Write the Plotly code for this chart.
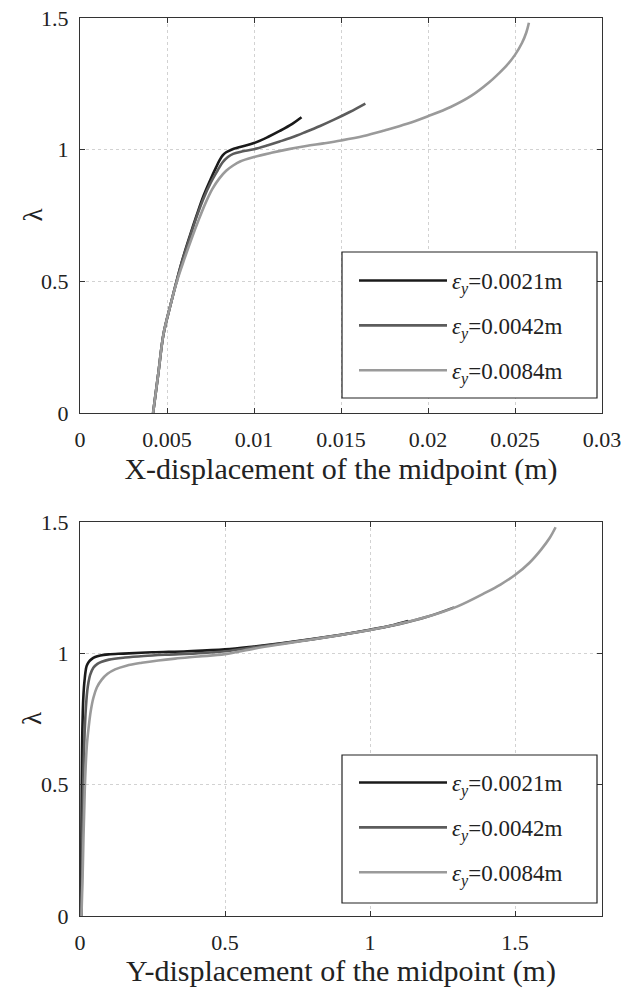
import plotly.graph_objects as go

# Load-factor curves for three imperfection amplitudes
labels = ["0.0021m", "0.0042m", "0.0084m"]
colors = ["#1a1a1a", "#5c5c5c", "#9a9a9a"]

# X-displacement of the midpoint (m) vs lambda
x_disp_1 = [0.0042, 0.0045, 0.0048, 0.0052, 0.00555, 0.0059, 0.0063, 0.0067, 0.0071, 0.0075, 0.0078, 0.00804,
            0.0082, 0.0084, 0.0087, 0.0092, 0.0100, 0.0108, 0.01148, 0.0122, 0.01273]
x_lam_1 = [0.0, 0.15, 0.30, 0.41, 0.50, 0.585, 0.67, 0.75, 0.825, 0.887, 0.93, 0.962,
           0.978, 0.99, 1.0, 1.01, 1.025, 1.048, 1.071, 1.098, 1.123]

x_disp_2 = [0.0042, 0.0045, 0.0048, 0.0052, 0.00555, 0.0059, 0.0063, 0.0067, 0.0071, 0.0075, 0.0079, 0.0082,
            0.0085, 0.0088, 0.0093, 0.0100, 0.0108, 0.01148, 0.0122, 0.0130, 0.0138, 0.0146, 0.0155, 0.0164]
x_lam_2 = [0.0, 0.15, 0.30, 0.41, 0.50, 0.583, 0.665, 0.745, 0.815, 0.873, 0.92, 0.952,
           0.972, 0.984, 0.993, 1.002, 1.017, 1.031, 1.047, 1.068, 1.09, 1.114, 1.143, 1.175]

x_disp_3 = [0.0042, 0.0045, 0.0048, 0.0052, 0.00557, 0.0060, 0.0064, 0.0068, 0.0072, 0.0076, 0.0080, 0.0084,
            0.0088, 0.0092, 0.0100, 0.0110, 0.0120, 0.0130, 0.0140, 0.0150, 0.0163, 0.0175, 0.0188, 0.0200,
            0.0213, 0.0225, 0.0235, 0.0240, 0.0245, 0.0250, 0.0254, 0.02565, 0.0258]
x_lam_3 = [0.0, 0.15, 0.30, 0.41, 0.50, 0.585, 0.66, 0.73, 0.795, 0.85, 0.89, 0.92,
           0.94, 0.955, 0.972, 0.988, 1.002, 1.014, 1.024, 1.035, 1.052, 1.073, 1.098, 1.127,
           1.162, 1.205, 1.255, 1.285, 1.318, 1.36, 1.405, 1.445, 1.482]

# Y-displacement of the midpoint (m) vs lambda
y_disp_1 = [0.004, 0.005, 0.006, 0.007, 0.008, 0.0095, 0.011, 0.0135, 0.016, 0.019, 0.023, 0.030, 0.040,
            0.052, 0.070, 0.098, 0.15, 0.25, 0.37, 0.50, 0.60, 0.70, 0.80, 0.90, 1.00, 1.07, 1.132]
y_lam_1 = [0.0, 0.30, 0.50, 0.62, 0.70, 0.77, 0.82, 0.87, 0.90, 0.93, 0.952, 0.967, 0.978,
           0.986, 0.992, 0.996, 0.999, 1.004, 1.008, 1.015, 1.026, 1.039, 1.054, 1.071, 1.090, 1.105, 1.123]

y_disp_2 = [0.005, 0.008, 0.011, 0.013, 0.016, 0.019, 0.022, 0.025, 0.029, 0.035, 0.046, 0.060, 0.075,
            0.10, 0.155, 0.22, 0.30, 0.40, 0.50, 0.60, 0.70, 0.80, 0.90, 1.00, 1.10, 1.20, 1.29]
y_lam_2 = [0.0, 0.30, 0.50, 0.60, 0.70, 0.77, 0.82, 0.857, 0.888, 0.918, 0.945, 0.96, 0.968,
           0.976, 0.984, 0.99, 0.995, 1.0, 1.008, 1.023, 1.038, 1.053, 1.07, 1.089, 1.111, 1.14, 1.175]

y_disp_3 = [0.005, 0.009, 0.012, 0.015, 0.017, 0.020, 0.024, 0.030, 0.037, 0.046, 0.058, 0.075, 0.095,
            0.121, 0.16, 0.213, 0.27, 0.328, 0.41, 0.50, 0.60, 0.70, 0.80, 0.90, 1.00, 1.10, 1.20, 1.30,
            1.40, 1.45, 1.50, 1.55, 1.59, 1.62, 1.64]
y_lam_3 = [0.0, 0.15, 0.30, 0.42, 0.50, 0.58, 0.655, 0.72, 0.78, 0.83, 0.87, 0.90, 0.922,
           0.939, 0.953, 0.964, 0.973, 0.98, 0.988, 0.997, 1.018, 1.036, 1.053, 1.07, 1.089, 1.112, 1.14, 1.178,
           1.232, 1.262, 1.298, 1.345, 1.395, 1.44, 1.48]

x_series = [(x_disp_1, x_lam_1), (x_disp_2, x_lam_2), (x_disp_3, x_lam_3)]
y_series = [(y_disp_1, y_lam_1), (y_disp_2, y_lam_2), (y_disp_3, y_lam_3)]

FONT = "Liberation Serif, Times New Roman, serif"
TXT = "#222222"


def legend_text(v):
    return "<i>ε</i><sub><i>y</i></sub>=" + v


fig = go.Figure()
for (xs, ys), lab, col in zip(x_series, labels, colors):
    fig.add_trace(go.Scatter(x=xs, y=ys, mode="lines", name=legend_text(lab),
                             line=dict(color=col, width=2.6, shape="spline", smoothing=1.0),
                             xaxis="x", yaxis="y", legend="legend", legendgroup="a" + lab))
for (xs, ys), lab, col in zip(y_series, labels, colors):
    fig.add_trace(go.Scatter(x=xs, y=ys, mode="lines", name=legend_text(lab),
                             line=dict(color=col, width=2.6, shape="spline", smoothing=1.0),
                             xaxis="x2", yaxis="y2", legend="legend2", legendgroup="b" + lab))

W, H = 635, 988
dom_x = [80 / W, 602 / W]
dom_y1 = [(H - 413) / H, (H - 18) / H]
dom_y2 = [(H - 916) / H, (H - 522) / H]

axis_common = dict(
    showline=True, linecolor="#333333", linewidth=1.2, mirror="ticks",
    ticks="inside", ticklen=5, tickcolor="#333333",
    showgrid=True, gridcolor="#d2d2d2", griddash="dot", gridwidth=1,
    zeroline=False, automargin=False,
    tickfont=dict(family=FONT, size=22, color=TXT),
    title_font=dict(family=FONT, size=30, color=TXT),
)

legend_common = dict(
    bgcolor="rgba(0,0,0,0)", borderwidth=0,
    font=dict(family=FONT, size=23, color=TXT),
    itemwidth=88, tracegroupgap=12, xanchor="left", yanchor="top",
)

# Legend frames drawn as white boxes behind the legend entries
box_x0, box_x1 = 342 / W, 597 / W
shapes = [
    dict(type="rect", xref="paper", yref="paper", x0=box_x0, x1=box_x1,
         y0=(H - 398) / H, y1=(H - 252) / H, fillcolor="white",
         line=dict(color="#222222", width=1.2), layer="above"),
    dict(type="rect", xref="paper", yref="paper", x0=box_x0, x1=box_x1,
         y0=(H - 903) / H, y1=(H - 755) / H, fillcolor="white",
         line=dict(color="#222222", width=1.2), layer="above"),
]

# Rotated lambda labels for the two vertical axes
lam_annotations = [
    dict(text="λ", xref="paper", yref="paper", x=32 / W, y=sum(dom_y1) / 2,
         xanchor="center", yanchor="middle",
         textangle=-90, showarrow=False, font=dict(family=FONT, size=27, color=TXT)),
    dict(text="λ", xref="paper", yref="paper", x=32 / W, y=sum(dom_y2) / 2,
         xanchor="center", yanchor="middle",
         textangle=-90, showarrow=False, font=dict(family=FONT, size=27, color=TXT)),
]

fig.update_layout(
    width=W, height=H,
    margin=dict(l=0, r=0, t=0, b=0),
    font=dict(family=FONT, color=TXT),
    paper_bgcolor="white", plot_bgcolor="white",
    xaxis=dict(domain=dom_x, range=[0, 0.03], dtick=0.005, anchor="y",
               title=dict(text="X-displacement of the midpoint (m)", standoff=3),
               ticklabelstandoff=6, **axis_common),
    yaxis=dict(domain=dom_y1, range=[0, 1.5], dtick=0.5, anchor="x",
               ticklabelstandoff=6, **axis_common),
    xaxis2=dict(domain=dom_x, range=[0, 1.8], tickvals=[0, 0.5, 1, 1.5], anchor="y2",
                title=dict(text="Y-displacement of the midpoint (m)", standoff=3),
                ticklabelstandoff=6, **axis_common),
    yaxis2=dict(domain=dom_y2, range=[0, 1.5], dtick=0.5, anchor="x2",
                ticklabelstandoff=6, **axis_common),
    legend=dict(x=354 / W, y=(H - 259) / H, **legend_common),
    legend2=dict(x=354 / W, y=(H - 761) / H, **legend_common),
    shapes=shapes,
    annotations=lam_annotations,
)

fig.write_html("out.html")
